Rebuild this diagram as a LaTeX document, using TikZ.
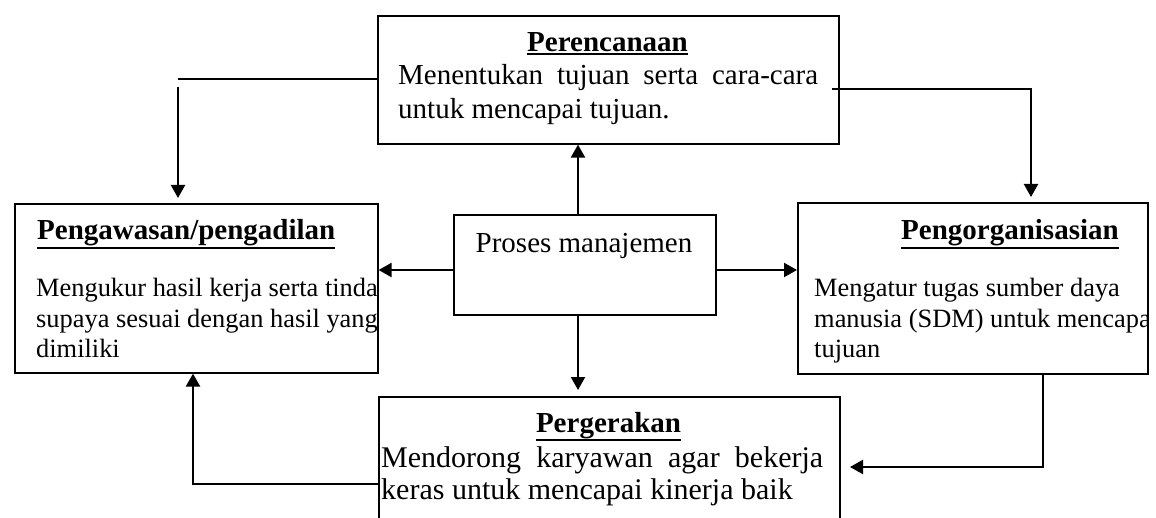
\documentclass[tikz,border=0pt]{standalone}
\usepackage{fontspec}
\setmainfont{Liberation Serif}
\usetikzlibrary{arrows.meta}
\newcommand\myul[1]{\leavevmode\vtop{\hbox{#1}\kern1pt\hrule height 2pt}}
\begin{document}
\begin{tikzpicture}[x=1pt,y=-1pt,
  box/.style={draw, line width=1.6pt, inner sep=0pt},
  conn/.style={line width=2.2pt},
  arr/.style={conn, -{Triangle[length=13pt,width=14pt]}},
  big/.style={font=\fontsize{29}{34}\selectfont, inner sep=0pt},
  body/.style={font=\fontsize{30}{34}\selectfont, inner sep=0pt},
  small/.style={font=\fontsize{26.4}{30}\selectfont, inner sep=0pt}]
\fill[white] (0,0) rectangle (1156,518);
\useasboundingbox (0,0) rectangle (1156,518);

% boxes
\node[box, anchor=north west, minimum width=461pt, minimum height=128pt] (per) at (377,15) {};
\node[box, anchor=north west, minimum width=262pt, minimum height=100pt] (pro) at (453,214) {};
\node[box, anchor=north west, minimum width=363pt, minimum height=169pt] (pgw) at (14,203) {};
\node[box, anchor=north west, minimum width=350pt, minimum height=171pt] (org) at (797,202) {};
\node[box, anchor=north west, minimum width=461pt, minimum height=140pt] (pgr) at (378,396) {};

% texts
\node[big, anchor=base] (perT) at (607.5,52) {\myul{\bfseries Perencanaan}};
\node[big, anchor=base west] (perL1) at (398,85) {\makebox[420pt][s]{Menentukan tujuan serta cara-cara}};
\node[big, anchor=base west] (perL2) at (398,119) {untuk mencapai tujuan.};

\node[big, anchor=base] (proT) at (584,253) {Proses manajemen};

\begin{scope}
\clip (pgw.north west) rectangle (pgw.south east);
\node[big, anchor=base west] (pgwT) at (37,240) {\myul{\bfseries Pengawasan/pengadilan}};
\node[small, anchor=base west] (pgwL1) at (36,297) {Mengukur hasil kerja serta tindakan};
\node[small, anchor=base west] (pgwL2) at (36,327) {supaya sesuai dengan hasil yang};
\node[small, anchor=base west] (pgwL3) at (36,357) {dimiliki};
\end{scope}

\begin{scope}
\clip (org.north west) rectangle (org.south east);
\node[big, anchor=base west] (orgT) at (901,240) {\myul{\bfseries Pengorganisasian}};
\node[small, anchor=base west] (orgL1) at (814,297) {Mengatur tugas sumber daya};
\node[small, anchor=base west] (orgL2) at (814,327) {manusia (SDM) untuk mencapai};
\node[small, anchor=base west] (orgL3) at (814,357) {tujuan};
\end{scope}

\node[big, anchor=base] (pgrT) at (608.5,432) {\myul{\bfseries Pergerakan}};
\node[body, anchor=base west] (pgrL1) at (381,467) {\makebox[442pt][s]{Mendorong karyawan agar bekerja}};
\node[body, anchor=base west] (pgrL2) at (381,499) {keras untuk mencapai kinerja baik};

% connectors
\coordinate (c1) at (178,79);
\coordinate (c1b) at (178,87);
\coordinate (c2a) at (832,89);
\coordinate (c2) at (1031,89);
\coordinate (c3) at (578,0);
\coordinate (c4) at (0,270);
\coordinate (c7a) at (1043,0);
\coordinate (c7) at (1043,467);
\coordinate (c7b) at (850,467);
\coordinate (c8) at (193,484);

\draw[conn] (per.west |- c1) -- (c1);
\draw[arr] (c1b) -- ([yshift=5pt]c1b |- pgw.north);
\draw[arr] (c2a) -- (c2) -- ([yshift=5pt]c2 |- org.north);
\draw[arr] (c3 |- pro.north) -- (c3 |- per.south);
\draw[arr] (pro.west |- c4) -- (pgw.east |- c4);
\draw[arr] (pro.east |- c4) -- (org.west |- c4);
\draw[arr] (c3 |- pro.south) -- ([yshift=6pt]c3 |- pgr.north);
\draw[arr] (c7a |- org.south) -- (c7) -- (c7b);
\draw[arr] (pgr.west |- c8) -- (c8) -- (c8 |- pgw.south);
\end{tikzpicture}
\end{document}
